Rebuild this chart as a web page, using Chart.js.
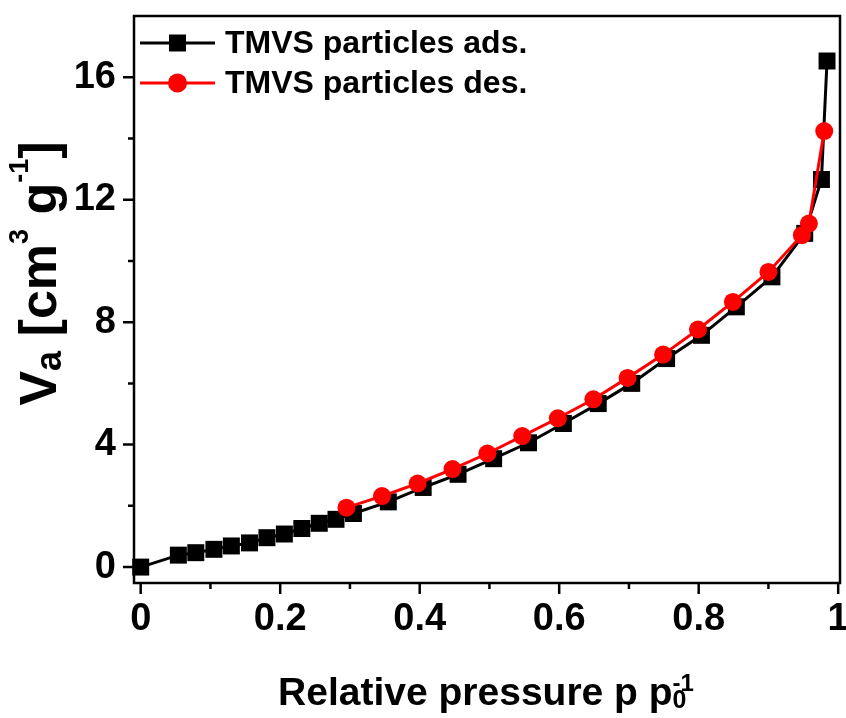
<!DOCTYPE html>
<html>
<head>
<meta charset="utf-8">
<script src="https://cdn.jsdelivr.net/npm/chart.js@4.4.1/dist/chart.umd.min.js"></script>
<style>
  html, body { margin: 0; padding: 0; background: #fff; }
</style>
</head>
<body>
<canvas id="isoterma" width="846" height="718"></canvas>
<script>
// Ramo de adsorção (p/p0, volume adsorvido)
const adsP = [0, 0.054, 0.079, 0.105, 0.130, 0.156, 0.181, 0.206, 0.231, 0.256, 0.280, 0.305,
              0.355, 0.405, 0.455, 0.506, 0.556, 0.606, 0.656, 0.704, 0.754, 0.804, 0.854,
              0.905, 0.952, 0.976, 0.984];
const adsV = [0, 0.39, 0.47, 0.58, 0.69, 0.79, 0.96, 1.08, 1.26, 1.43, 1.56, 1.75,
              2.13, 2.60, 3.03, 3.54, 4.06, 4.69, 5.34, 6.00, 6.81, 7.57, 8.50,
              9.48, 10.90, 12.66, 16.53];

// Ramo de dessorção
const desP = [0.980, 0.958, 0.948, 0.900, 0.849, 0.799, 0.749, 0.698, 0.649, 0.598,
              0.547, 0.497, 0.447, 0.397, 0.346, 0.295];
const desV = [14.24, 11.22, 10.84, 9.64, 8.66, 7.76, 6.94, 6.18, 5.48, 4.86,
              4.28, 3.71, 3.20, 2.73, 2.32, 1.94];

const xMajor = [0, 0.2, 0.4, 0.6, 0.8, 1];
const xMinor = [0.1, 0.3, 0.5, 0.7, 0.9];
const yMajor = [0, 4, 8, 12, 16];
const yMinor = [2, 6, 10, 14];

const FONTE = '"Liberation Sans", Arial, sans-serif';
const pares = (xs, ys) => xs.map((x, i) => ({ x: x, y: ys[i] }));

// texto em partes (normal / subscrito / sobrescrito) a partir de x0 na linha de base
function textoComposto(ctx, partes, x0, base) {
  let x = x0;
  partes.forEach(p => {
    ctx.font = 'bold ' + p.size + 'px ' + FONTE;
    ctx.fillText(p.t, x, base + (p.dy || 0));
    if (!p.stack) x += ctx.measureText(p.t).width;
  });
}
function larguraComposta(ctx, partes) {
  let w = 0;
  partes.forEach(p => {
    ctx.font = 'bold ' + p.size + 'px ' + FONTE;
    if (!p.stack) w += ctx.measureText(p.t).width;
  });
  return w;
}

// o Chart.js reserva meia altura de rótulo nas pontas; aqui a área fica fixa
function semFolga(s) {
  s.paddingTop = 0;
  s.paddingBottom = 0;
  s.paddingLeft = 0;
  s.paddingRight = 0;
}

const moldura = {
  id: 'moldura',
  afterDraw(chart) {
    const { ctx, chartArea: a, scales: { x, y } } = chart;
    ctx.save();
    ctx.strokeStyle = '#000';
    ctx.fillStyle = '#000';
    ctx.lineWidth = 2.5;
    ctx.strokeRect(a.left, a.top, a.right - a.left, a.bottom - a.top);

    // marcas dos eixos, para fora
    ctx.beginPath();
    xMajor.concat(xMinor).forEach(v => {
      const px = x.getPixelForValue(v);
      const len = xMajor.includes(v) ? 11 : 6;
      ctx.moveTo(px, a.bottom);
      ctx.lineTo(px, a.bottom + len);
    });
    yMajor.concat(yMinor).forEach(v => {
      const py = y.getPixelForValue(v);
      const len = yMajor.includes(v) ? 11 : 6;
      ctx.moveTo(a.left, py);
      ctx.lineTo(a.left - len, py);
    });
    ctx.stroke();

    // legenda
    const linhas = [a.top + 27, a.top + 67];
    chart.data.datasets.slice().reverse().forEach((ds, i) => {
      const ly = linhas[i];
      ctx.strokeStyle = ds.borderColor;
      ctx.fillStyle = ds.backgroundColor;
      ctx.lineWidth = 3;
      ctx.beginPath();
      ctx.moveTo(a.left + 6, ly);
      ctx.lineTo(a.left + 81, ly);
      ctx.stroke();
      if (ds.pointStyle === 'rect') {
        ctx.fillRect(a.left + 35, ly - 8.5, 17, 17);
      } else {
        ctx.beginPath();
        ctx.arc(a.left + 43.5, ly, 9.5, 0, Math.PI * 2);
        ctx.fill();
      }
      ctx.fillStyle = '#000';
      ctx.font = 'bold 32px ' + FONTE;
      ctx.textBaseline = 'middle';
      ctx.textAlign = 'left';
      ctx.fillText(ds.label, a.left + 91, ly + 1);
    });

    // título do eixo x
    ctx.textBaseline = 'alphabetic';
    ctx.fillStyle = '#000';
    const tx = [
      { t: 'Relative pressure p p', size: 39 },
      { t: '0', size: 25, dy: 3, stack: true },
      { t: '-1', size: 24, dy: -14 }
    ];
    const wx = larguraComposta(ctx, tx);
    textoComposto(ctx, tx, (a.left + a.right) / 2 - 1 - wx / 2, 705);

    // título do eixo y
    const ty = [
      { t: 'V', size: 52 },
      { t: 'a', size: 36, dy: 5 },
      { t: ' [cm', size: 52 },
      { t: '3', size: 27, dy: -28 },
      { t: ' g', size: 52 },
      { t: '-1', size: 27, dy: -28 },
      { t: ']', size: 52 }
    ];
    const wy = larguraComposta(ctx, ty);
    ctx.translate(56, (a.top + a.bottom) / 2 - 26);
    ctx.rotate(-Math.PI / 2);
    textoComposto(ctx, ty, -wy / 2, 0);
    ctx.restore();
  }
};

new Chart(document.getElementById('isoterma'), {
  type: 'scatter',
  data: {
    datasets: [
      {
        label: 'TMVS particles des.',
        data: pares(desP, desV),
        showLine: true,
        borderColor: '#ff0000',
        backgroundColor: '#ff0000',
        borderWidth: 3,
        pointStyle: 'circle',
        pointRadius: 9,
        pointBorderWidth: 0,
        clip: false,
        order: 1
      },
      {
        label: 'TMVS particles ads.',
        data: pares(adsP, adsV),
        showLine: true,
        borderColor: '#000000',
        backgroundColor: '#000000',
        borderWidth: 3,
        pointStyle: 'rect',
        pointRadius: 12,
        pointBorderWidth: 0,
        clip: false,
        order: 2
      }
    ]
  },
  options: {
    responsive: false,
    animation: false,
    devicePixelRatio: 1,
    layout: { autoPadding: false, padding: { top: 16, right: 6, left: 0, bottom: 0 } },
    plugins: {
      legend: { display: false },
      tooltip: { enabled: false }
    },
    scales: {
      x: {
        type: 'linear',
        min: -0.0096,
        max: 1.0026,
        grid: { display: false, drawTicks: false },
        border: { display: false },
        afterFit: s => { s.height = 135; semFolga(s); },
        afterBuildTicks: s => { s.ticks = xMajor.map(v => ({ value: v })); },
        ticks: {
          color: '#000',
          padding: 14,
          maxRotation: 0,
          autoSkip: false,
          font: { family: FONTE, size: 38, weight: 'bold' },
          callback: v => String(v)
        }
      },
      y: {
        type: 'linear',
        min: -0.52,
        max: 18,
        grid: { display: false, drawTicks: false },
        border: { display: false },
        afterFit: s => { s.width = 134; semFolga(s); },
        afterBuildTicks: s => { s.ticks = yMajor.map(v => ({ value: v })); },
        ticks: {
          color: '#000',
          padding: 18,
          autoSkip: false,
          font: { family: FONTE, size: 38, weight: 'bold' },
          callback: v => String(v)
        }
      }
    }
  },
  plugins: [moldura]
});
</script>
</body>
</html>
